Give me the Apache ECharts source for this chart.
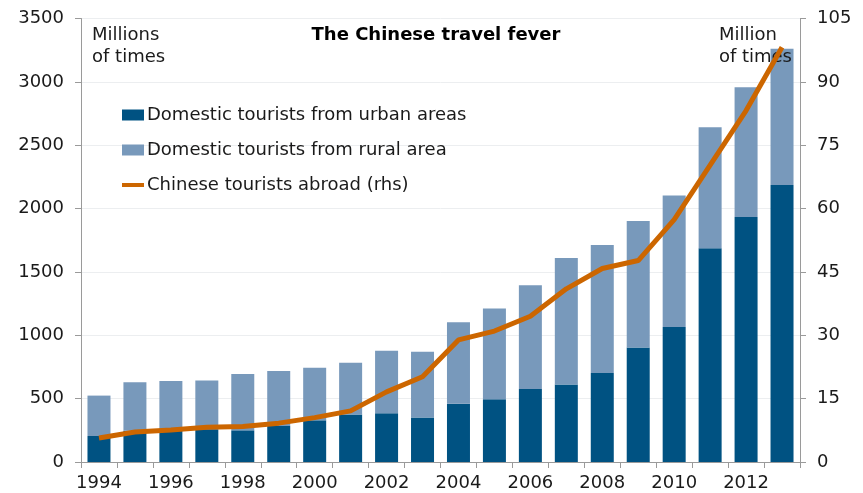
<!DOCTYPE html>
<html>
<head>
<meta charset="utf-8">
<script src="https://cdn.jsdelivr.net/npm/echarts@6/dist/echarts.min.js"></script>
<style>
  html, body { margin: 0; padding: 0; background: #fff; }
  #chart { width: 863px; height: 493px; }
</style>
</head>
<body>
<div id="chart"></div>
<script>
// Years on the category axis
const years = ['1994','1995','1996','1997','1998','1999','2000','2001','2002','2003',
               '2004','2005','2006','2007','2008','2009','2010','2011','2012','2013'];

// Domestic trips, millions of times (stacked bars, left axis)
const urbanTrips = [205, 246, 256, 259, 250, 284, 329, 375, 385, 351,
                    459, 496, 576, 612, 703, 903, 1065, 1687, 1933, 2186];
const ruralTrips = [319, 383, 384, 385, 444, 435, 415, 409, 493, 519,
                    643, 716, 818, 998, 1009, 999, 1038, 954, 1024, 1076];

// Outbound trips, million of times (line, right axis)
const abroadTrips = [5.7, 7.1, 7.6, 8.2, 8.4, 9.2, 10.5, 12.1, 16.6, 20.2,
                     28.9, 31.0, 34.5, 41.0, 45.8, 47.7, 57.4, 70.3, 83.2, 98.2];

// Axis ranges and steps
const leftAxis = { min: 0, max: 3500, interval: 500 };
const rightAxis = { min: 0, max: 105, interval: 15 };

const FONT = 'DejaVu Sans';
const AXIS_GRAY = '#9a9a9a';
const TEXT = '#1a1a1a';
const plain = v => String(v);

const chart = echarts.init(document.getElementById('chart'), null, { renderer: 'canvas' });

chart.setOption({
  animation: false,
  backgroundColor: '#ffffff',
  textStyle: { fontFamily: FONT, color: TEXT },
  title: {
    text: 'The Chinese travel fever',
    left: 431,
    top: 21,
    textAlign: 'center',
    textStyle: { fontFamily: FONT, fontSize: 18, fontWeight: 'bold', color: '#000' }
  },
  graphic: [
    {
      type: 'text', left: 92, top: 24, z: 3,
      style: { text: 'Millions\nof times', font: '18px "DejaVu Sans"', fill: TEXT, lineHeight: 22 }
    },
    {
      type: 'text', right: 71, top: 24, z: 3,
      style: { text: 'Million\nof times', font: '18px "DejaVu Sans"', fill: TEXT, lineHeight: 22, align: 'right' }
    }
  ],
  legend: {
    orient: 'vertical',
    left: 117,
    top: 101,
    itemGap: 17,
    itemWidth: 22,
    itemHeight: 11,
    textStyle: { fontFamily: FONT, fontSize: 18, color: TEXT, padding: [0, 0, 0, -2] },
    data: [
      { name: 'Domestic tourists from urban areas', icon: 'rect' },
      { name: 'Domestic tourists from rural area', icon: 'rect' },
      { name: 'Chinese tourists abroad (rhs)', icon: 'path://M0,0 L22,0 L22,4 L0,4 Z' }
    ]
  },
  grid: { left: 81, right: 63, top: 18.5, bottom: 31, containLabel: false },
  xAxis: {
    type: 'category',
    data: years,
    boundaryGap: true,
    axisLine: { lineStyle: { color: AXIS_GRAY, width: 1 } },
    axisTick: { show: true, interval: 0, length: 6, lineStyle: { color: AXIS_GRAY } },
    axisLabel: { interval: 1, fontFamily: FONT, fontSize: 18, color: TEXT, margin: 12 },
    splitLine: { show: false }
  },
  yAxis: [
    {
      type: 'value',
      min: leftAxis.min, max: leftAxis.max, interval: leftAxis.interval,
      axisLine: { show: true, lineStyle: { color: AXIS_GRAY } },
      axisTick: { show: true, length: 6, lineStyle: { color: AXIS_GRAY } },
      axisLabel: { fontFamily: FONT, fontSize: 18, color: TEXT, margin: 17, formatter: plain },
      splitLine: { show: true, lineStyle: { color: '#eceef0', width: 1 } }
    },
    {
      type: 'value',
      min: rightAxis.min, max: rightAxis.max, interval: rightAxis.interval,
      position: 'right',
      axisLine: { show: true, lineStyle: { color: AXIS_GRAY } },
      axisTick: { show: true, length: 6, lineStyle: { color: AXIS_GRAY } },
      axisLabel: { fontFamily: FONT, fontSize: 18, color: TEXT, margin: 17, formatter: plain },
      splitLine: { show: false }
    }
  ],
  series: [
    {
      name: 'Domestic tourists from urban areas',
      type: 'bar',
      stack: 'domestic',
      yAxisIndex: 0,
      barWidth: 23,
      itemStyle: { color: '#005282' },
      data: urbanTrips
    },
    {
      name: 'Domestic tourists from rural area',
      type: 'bar',
      stack: 'domestic',
      yAxisIndex: 0,
      barWidth: 23,
      itemStyle: { color: '#7899bb' },
      data: ruralTrips
    },
    {
      name: 'Chinese tourists abroad (rhs)',
      type: 'line',
      yAxisIndex: 1,
      symbol: 'none',
      lineStyle: { color: '#cc6600', width: 5 },
      itemStyle: { color: '#cc6600' },
      z: 5,
      data: abroadTrips
    }
  ]
});
</script>
</body>
</html>
